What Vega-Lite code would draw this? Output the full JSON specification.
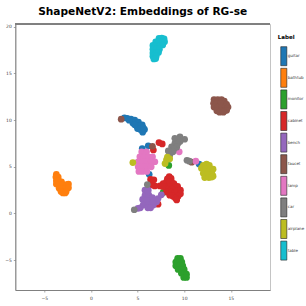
{"$schema":"https://vega.github.io/schema/vega-lite/v6.json","width":254.7,"height":266,"autosize":"none","padding":{"left":15.3,"top":24,"right":36,"bottom":16},"background":"white",
"title":{"text":"ShapeNetV2: Embeddings of RG-se","font":"DejaVu Sans","fontSize":10.6,"fontWeight":"bold","color":"black","anchor":"middle","offset":6},
"config":{"view":{"stroke":"#c4c4c4","strokeWidth":1}},
"data":{"values":[
{"x":3.6,"y":10.25,"label":"guitar"},{"x":3.9,"y":10.2,"label":"guitar"},{"x":4.3,"y":10.1,"label":"guitar"},{"x":4.7,"y":10.0,"label":"guitar"},{"x":5.1,"y":9.8,"label":"guitar"},{"x":5.5,"y":9.5,"label":"guitar"},{"x":5.75,"y":9.0,"label":"guitar"},{"x":5.55,"y":8.7,"label":"guitar"},{"x":5.3,"y":9.0,"label":"guitar"},{"x":4.9,"y":9.4,"label":"guitar"},{"x":4.5,"y":9.7,"label":"guitar"},{"x":5.3,"y":9.4,"label":"guitar"},{"x":5.6,"y":9.2,"label":"guitar"},{"x":4.1,"y":10.0,"label":"guitar"},{"x":5.0,"y":9.1,"label":"guitar"},{"x":4.7,"y":9.5,"label":"guitar"},
{"x":5.5,"y":6.95,"label":"guitar"},{"x":6.15,"y":7.25,"label":"guitar"},{"x":6.25,"y":4.2,"label":"guitar"},{"x":11.6,"y":5.3,"label":"guitar"},
{"x":-3.7,"y":4.2,"label":"bathtub"},{"x":-3.75,"y":3.9,"label":"bathtub"},{"x":-3.5,"y":3.9,"label":"bathtub"},{"x":-3.7,"y":3.5,"label":"bathtub"},{"x":-3.45,"y":3.5,"label":"bathtub"},{"x":-3.15,"y":3.4,"label":"bathtub"},{"x":-3.7,"y":3.15,"label":"bathtub"},{"x":-3.4,"y":3.1,"label":"bathtub"},{"x":-3.0,"y":3.1,"label":"bathtub"},{"x":-2.6,"y":3.1,"label":"bathtub"},{"x":-2.4,"y":3.15,"label":"bathtub"},{"x":-3.4,"y":2.7,"label":"bathtub"},{"x":-3.1,"y":2.7,"label":"bathtub"},{"x":-2.7,"y":2.7,"label":"bathtub"},{"x":-2.4,"y":2.75,"label":"bathtub"},{"x":-3.2,"y":2.35,"label":"bathtub"},{"x":-3.0,"y":2.3,"label":"bathtub"},{"x":-2.65,"y":2.35,"label":"bathtub"},{"x":-3.0,"y":2.2,"label":"bathtub"},{"x":-2.75,"y":2.2,"label":"bathtub"},
{"x":9.3,"y":-4.8,"label":"monitor"},{"x":9.6,"y":-4.8,"label":"monitor"},{"x":9.1,"y":-5.2,"label":"monitor"},{"x":9.5,"y":-5.2,"label":"monitor"},{"x":9.75,"y":-5.2,"label":"monitor"},{"x":9.1,"y":-5.6,"label":"monitor"},{"x":9.5,"y":-5.6,"label":"monitor"},{"x":9.85,"y":-5.6,"label":"monitor"},{"x":9.35,"y":-6.0,"label":"monitor"},{"x":9.7,"y":-6.0,"label":"monitor"},{"x":10.0,"y":-6.0,"label":"monitor"},{"x":9.7,"y":-6.4,"label":"monitor"},{"x":10.05,"y":-6.4,"label":"monitor"},{"x":10.25,"y":-6.5,"label":"monitor"},{"x":9.95,"y":-6.85,"label":"monitor"},{"x":10.25,"y":-6.85,"label":"monitor"},
{"x":8.35,"y":5.15,"label":"monitor"},{"x":7.75,"y":2.25,"label":"monitor"},
{"x":8.4,"y":3.95,"label":"cabinet"},{"x":8.2,"y":3.7,"label":"cabinet"},{"x":8.6,"y":3.75,"label":"cabinet"},{"x":8.1,"y":3.4,"label":"cabinet"},{"x":8.65,"y":3.4,"label":"cabinet"},{"x":8.4,"y":3.4,"label":"cabinet"},{"x":8.9,"y":3.2,"label":"cabinet"},{"x":7.75,"y":3.2,"label":"cabinet"},{"x":7.95,"y":2.85,"label":"cabinet"},{"x":8.45,"y":2.85,"label":"cabinet"},{"x":9.0,"y":2.85,"label":"cabinet"},{"x":9.3,"y":2.9,"label":"cabinet"},{"x":8.2,"y":2.6,"label":"cabinet"},{"x":8.7,"y":2.6,"label":"cabinet"},{"x":8.1,"y":2.3,"label":"cabinet"},{"x":8.4,"y":2.3,"label":"cabinet"},{"x":8.65,"y":2.3,"label":"cabinet"},{"x":8.95,"y":2.2,"label":"cabinet"},{"x":9.2,"y":2.4,"label":"cabinet"},{"x":9.6,"y":2.5,"label":"cabinet"},{"x":9.6,"y":2.1,"label":"cabinet"},{"x":8.8,"y":1.85,"label":"cabinet"},{"x":9.35,"y":1.85,"label":"cabinet"},{"x":9.05,"y":1.65,"label":"cabinet"},{"x":9.2,"y":1.45,"label":"cabinet"},{"x":7.4,"y":2.95,"label":"cabinet"},{"x":6.85,"y":2.95,"label":"cabinet"},{"x":6.5,"y":3.05,"label":"cabinet"},{"x":6.4,"y":3.65,"label":"cabinet"},{"x":6.75,"y":3.6,"label":"cabinet"},{"x":7.3,"y":7.6,"label":"cabinet"},{"x":7.65,"y":7.45,"label":"cabinet"},{"x":6.7,"y":6.8,"label":"cabinet"},{"x":7.2,"y":1.0,"label":"cabinet"},{"x":7.7,"y":2.9,"label":"cabinet"},{"x":8.45,"y":1.95,"label":"cabinet"},
{"x":5.8,"y":2.5,"label":"bench"},{"x":6.15,"y":2.5,"label":"bench"},{"x":5.8,"y":1.95,"label":"bench"},{"x":6.2,"y":2.0,"label":"bench"},{"x":5.55,"y":1.5,"label":"bench"},{"x":6.35,"y":1.4,"label":"bench"},{"x":5.95,"y":1.4,"label":"bench"},{"x":5.6,"y":0.9,"label":"bench"},{"x":6.15,"y":0.9,"label":"bench"},{"x":6.7,"y":0.9,"label":"bench"},{"x":7.05,"y":1.25,"label":"bench"},{"x":6.6,"y":1.7,"label":"bench"},{"x":6.75,"y":1.35,"label":"bench"},{"x":7.2,"y":1.6,"label":"bench"},{"x":7.55,"y":2.0,"label":"bench"},{"x":6.1,"y":0.6,"label":"bench"},{"x":5.3,"y":0.6,"label":"bench"},{"x":5.05,"y":0.55,"label":"bench"},{"x":6.1,"y":2.4,"label":"bench"},{"x":6.4,"y":0.6,"label":"bench"},
{"x":3.25,"y":10.1,"label":"faucet"},{"x":13.2,"y":12.2,"label":"faucet"},{"x":13.6,"y":12.2,"label":"faucet"},{"x":14.0,"y":12.2,"label":"faucet"},{"x":14.3,"y":12.05,"label":"faucet"},{"x":13.15,"y":11.8,"label":"faucet"},{"x":13.5,"y":11.8,"label":"faucet"},{"x":13.9,"y":11.8,"label":"faucet"},{"x":14.3,"y":11.8,"label":"faucet"},{"x":14.55,"y":11.7,"label":"faucet"},{"x":13.2,"y":11.4,"label":"faucet"},{"x":13.6,"y":11.4,"label":"faucet"},{"x":14.0,"y":11.4,"label":"faucet"},{"x":14.4,"y":11.4,"label":"faucet"},{"x":14.7,"y":11.4,"label":"faucet"},{"x":13.5,"y":11.0,"label":"faucet"},{"x":13.9,"y":11.0,"label":"faucet"},{"x":14.3,"y":11.0,"label":"faucet"},{"x":14.55,"y":11.05,"label":"faucet"},{"x":13.8,"y":10.85,"label":"faucet"},{"x":14.2,"y":10.85,"label":"faucet"},{"x":10.8,"y":5.5,"label":"faucet"},{"x":6.6,"y":7.2,"label":"faucet"},
{"x":5.45,"y":6.6,"label":"lamp"},{"x":5.97,"y":6.6,"label":"lamp"},{"x":5.25,"y":6.07,"label":"lamp"},{"x":5.72,"y":6.07,"label":"lamp"},{"x":6.18,"y":6.07,"label":"lamp"},{"x":6.61,"y":6.07,"label":"lamp"},{"x":5.07,"y":5.54,"label":"lamp"},{"x":5.54,"y":5.54,"label":"lamp"},{"x":6.0,"y":5.54,"label":"lamp"},{"x":6.47,"y":5.54,"label":"lamp"},{"x":6.86,"y":5.54,"label":"lamp"},{"x":5.07,"y":5.0,"label":"lamp"},{"x":5.54,"y":5.0,"label":"lamp"},{"x":6.0,"y":5.0,"label":"lamp"},{"x":6.47,"y":5.0,"label":"lamp"},{"x":5.15,"y":4.5,"label":"lamp"},{"x":5.54,"y":4.5,"label":"lamp"},{"x":6.0,"y":4.5,"label":"lamp"},{"x":9.47,"y":6.6,"label":"lamp"},{"x":11.25,"y":5.6,"label":"lamp"},
{"x":9.55,"y":8.2,"label":"car"},{"x":9.3,"y":7.95,"label":"car"},{"x":9.0,"y":8.05,"label":"car"},{"x":10.05,"y":7.95,"label":"car"},{"x":9.55,"y":7.7,"label":"car"},{"x":9.0,"y":7.5,"label":"car"},{"x":9.3,"y":7.45,"label":"car"},{"x":8.65,"y":7.15,"label":"car"},{"x":9.2,"y":7.1,"label":"car"},{"x":8.9,"y":6.9,"label":"car"},{"x":8.8,"y":6.6,"label":"car"},{"x":8.45,"y":6.25,"label":"car"},{"x":8.3,"y":6.7,"label":"car"},{"x":10.3,"y":5.7,"label":"car"},{"x":10.55,"y":5.6,"label":"car"},{"x":4.65,"y":0.4,"label":"car"},{"x":6.05,"y":3.1,"label":"car"},
{"x":4.5,"y":5.45,"label":"airplane"},{"x":8.1,"y":5.75,"label":"airplane"},{"x":7.95,"y":5.35,"label":"airplane"},{"x":8.2,"y":6.05,"label":"airplane"},{"x":8.45,"y":5.85,"label":"airplane"},{"x":12.4,"y":5.3,"label":"airplane"},{"x":12.05,"y":5.15,"label":"airplane"},{"x":12.7,"y":5.15,"label":"airplane"},{"x":11.85,"y":4.85,"label":"airplane"},{"x":12.3,"y":4.75,"label":"airplane"},{"x":12.8,"y":4.75,"label":"airplane"},{"x":13.1,"y":4.75,"label":"airplane"},{"x":12.05,"y":4.3,"label":"airplane"},{"x":12.5,"y":4.2,"label":"airplane"},{"x":13.0,"y":4.2,"label":"airplane"},{"x":13.1,"y":4.0,"label":"airplane"},{"x":12.2,"y":3.85,"label":"airplane"},{"x":12.65,"y":3.85,"label":"airplane"},{"x":12.95,"y":3.9,"label":"airplane"},
{"x":7.3,"y":18.75,"label":"table"},{"x":7.6,"y":18.8,"label":"table"},{"x":7.85,"y":18.7,"label":"table"},{"x":6.95,"y":18.4,"label":"table"},{"x":7.3,"y":18.4,"label":"table"},{"x":7.7,"y":18.4,"label":"table"},{"x":7.9,"y":18.4,"label":"table"},{"x":6.65,"y":18.0,"label":"table"},{"x":7.0,"y":18.0,"label":"table"},{"x":7.4,"y":18.0,"label":"table"},{"x":7.7,"y":18.05,"label":"table"},{"x":6.65,"y":17.6,"label":"table"},{"x":7.0,"y":17.6,"label":"table"},{"x":7.35,"y":17.6,"label":"table"},{"x":6.65,"y":17.2,"label":"table"},{"x":7.0,"y":17.2,"label":"table"},{"x":7.25,"y":17.25,"label":"table"},{"x":6.65,"y":16.85,"label":"table"},{"x":7.0,"y":16.85,"label":"table"},{"x":6.75,"y":16.55,"label":"table"},{"x":6.95,"y":16.6,"label":"table"}
]},
"layer":[
{"mark":{"type":"rule","color":"#808080","strokeWidth":1},"encoding":{"y":{"datum":20.3,"scale":{"domain":[-8.2,20.3],"nice":false,"zero":false}}}},
{"mark":{"type":"point","filled":true,"size":45,"opacity":1},
"encoding":{
"x":{"field":"x","type":"quantitative","scale":{"domain":[-8.1,19.2],"nice":false,"zero":false},"axis":{"title":null,"grid":false,"values":[-5,0,5,10,15],"domainColor":"#808080","domainWidth":1,"tickColor":"#808080","tickSize":2,"tickWidth":0.7,"labelFontSize":4.5,"labelColor":"#444","labelFont":"DejaVu Sans","labelPadding":3}},
"y":{"field":"y","type":"quantitative","scale":{"domain":[-8.2,20.3],"nice":false,"zero":false},"axis":{"title":null,"grid":false,"values":[-5,0,5,10,15,20],"domainColor":"#808080","domainWidth":1,"tickColor":"#808080","tickSize":2,"tickWidth":0.7,"labelFontSize":4.5,"labelColor":"#444","labelFont":"DejaVu Sans","labelPadding":2}},
"color":{"field":"label","type":"nominal","scale":{"domain":["guitar","bathtub","monitor","cabinet","bench","faucet","lamp","car","airplane","table"],"range":["#1f77b4","#ff7f0e","#2ca02c","#d62728","#9467bd","#8c564b","#e377c2","#7f7f7f","#bcbd22","#17becf"]},
"legend":{"title":"Label","orient":"none","legendX":262.5,"legendY":10.7,"titleFont":"DejaVu Sans","titleFontSize":5.5,"titleFontWeight":"bold","titleColor":"black","titlePadding":6,"labelFont":"DejaVu Sans","labelFontSize":4,"labelColor":"#333","labelOffset":-6,"symbolOffset":-4,"symbolType":"M-0.32,-1H0.32V1H-0.32Z","symbolSize":361,"symbolStrokeColor":"#222","symbolStrokeWidth":0.6,"symbolOpacity":1,"rowPadding":-0.4,"padding":0}}
}}
]}
